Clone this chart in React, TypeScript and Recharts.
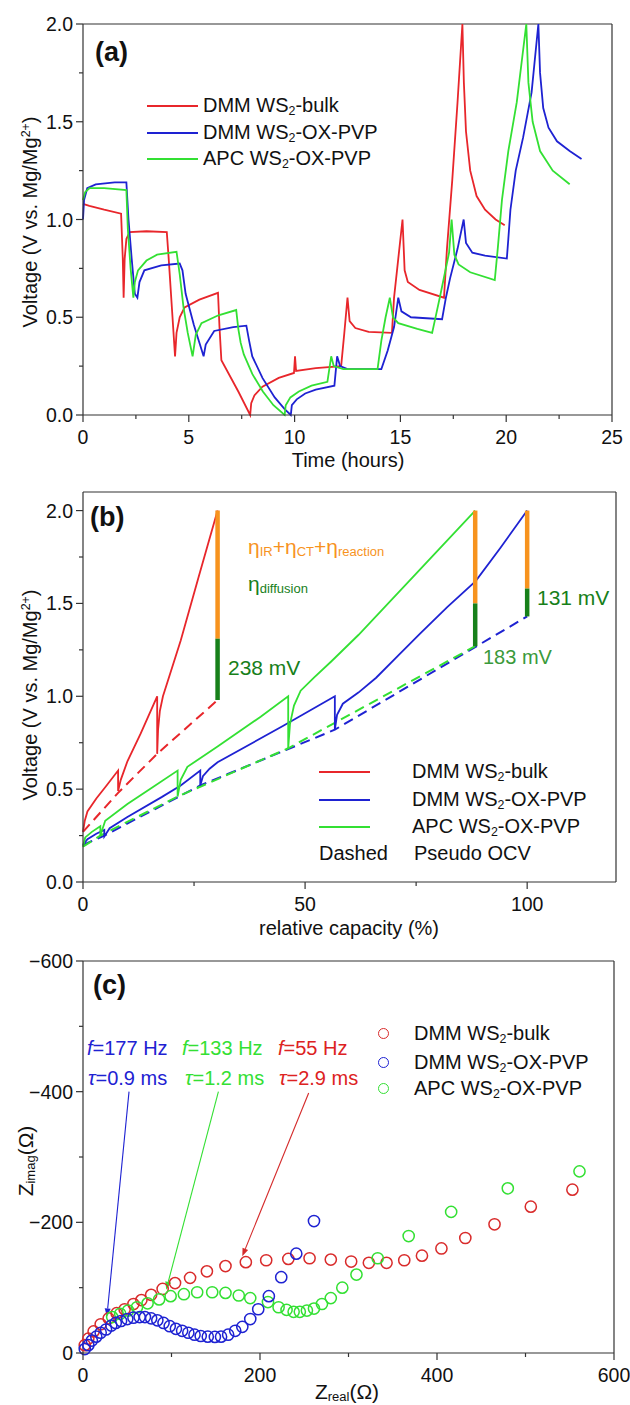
import React from 'react';
import { LineChart, Line, XAxis, YAxis, ReferenceLine, ScatterChart, Scatter } from 'recharts';

const FONT = '"Liberation Sans", Arial, sans-serif';
const AX = '#333';
const RED = '#E8262B';
const BLUE = '#1E22D2';
const GREEN = '#33E033';
const ORANGE = '#F7931E';
const DKGREEN = '#17801A';

// (a) time (h) vs voltage (V)
const bulkA: [number, number][] = [
  [0, 1.08], [0.3, 1.07], [1.0, 1.05], [1.8, 1.03], [1.88, 0.8], [1.92, 0.6], [1.97, 0.8], [2.05, 0.9], [2.2, 0.935],
  [3.0, 0.94], [3.96, 0.935], [4.05, 0.8], [4.2, 0.55], [4.35, 0.3], [4.42, 0.42], [4.57, 0.5], [4.8, 0.55], [5.5, 0.59],
  [6.38, 0.625], [6.45, 0.45], [6.54, 0.28], [7.34, 0.12], [7.9, 0.0], [7.95, 0.06], [8.1, 0.1], [8.48, 0.145],
  [9.25, 0.19], [9.97, 0.215], [10.02, 0.3], [10.07, 0.225], [11.0, 0.24], [12.2, 0.25], [12.35, 0.42], [12.5, 0.6],
  [12.6, 0.48], [12.87, 0.445], [13.5, 0.425], [14.6, 0.42], [14.7, 0.6], [14.9, 0.8], [15.1, 1.0], [15.2, 0.74],
  [15.35, 0.68], [15.9, 0.64], [17.06, 0.6], [17.2, 0.85], [17.45, 1.2], [17.7, 1.6], [17.93, 2.0], [18.0, 1.7],
  [18.1, 1.45], [18.3, 1.25], [18.6, 1.12], [19.0, 1.05], [19.5, 1.0], [19.93, 0.97],
];
const oxA: [number, number][] = [
  [0, 1.0], [0.05, 1.1], [0.2, 1.16], [0.6, 1.18], [1.5, 1.19], [2.05, 1.19], [2.15, 1.0], [2.3, 0.8], [2.45, 0.62],
  [2.57, 0.6], [2.67, 0.68], [2.9, 0.74], [3.7, 0.765], [4.57, 0.775], [4.7, 0.74], [4.85, 0.62], [5.24, 0.46],
  [5.7, 0.3], [5.8, 0.36], [6.2, 0.43], [7.1, 0.45], [7.72, 0.457], [7.85, 0.38], [8.0, 0.3], [8.48, 0.19],
  [9.06, 0.09], [9.53, 0.03], [9.82, 0.0], [9.87, 0.05], [10.1, 0.08], [10.5, 0.11], [11.0, 0.13], [11.88, 0.15],
  [12.01, 0.3], [12.15, 0.25], [12.5, 0.235], [14.1, 0.235], [14.4, 0.33], [14.7, 0.45], [14.9, 0.6], [15.05, 0.53],
  [15.5, 0.5], [16.97, 0.49], [17.15, 0.6], [17.35, 0.7], [17.7, 0.85], [17.99, 1.0], [18.1, 0.88], [18.4, 0.83],
  [19.0, 0.815], [20.03, 0.8], [20.1, 0.9], [20.2, 1.05], [20.45, 1.25], [20.8, 1.42], [21.2, 1.65], [21.52, 2.0],
  [21.6, 1.75], [21.75, 1.57], [22.0, 1.47], [22.4, 1.4], [23.0, 1.35], [23.56, 1.31],
];
const apcA: [number, number][] = [
  [0, 1.1], [0.1, 1.14], [0.3, 1.16], [1.0, 1.16], [2.05, 1.15], [2.12, 0.95], [2.25, 0.75], [2.38, 0.6], [2.45, 0.68],
  [2.6, 0.74], [3.0, 0.79], [3.5, 0.82], [4.42, 0.835], [4.57, 0.72], [4.75, 0.55], [4.95, 0.42], [5.18, 0.3],
  [5.33, 0.41], [5.6, 0.47], [6.4, 0.51], [7.24, 0.537], [7.34, 0.44], [7.45, 0.37], [7.6, 0.31], [8.0, 0.21],
  [8.5, 0.12], [9.0, 0.05], [9.53, 0.0], [9.58, 0.05], [9.8, 0.09], [10.2, 0.12], [10.8, 0.15], [11.55, 0.17],
  [11.73, 0.3], [11.85, 0.25], [12.3, 0.235], [13.92, 0.235], [14.1, 0.38], [14.3, 0.5], [14.5, 0.6], [14.65, 0.5],
  [14.9, 0.47], [15.8, 0.44], [16.5, 0.42], [16.7, 0.52], [16.9, 0.62], [17.3, 0.83], [17.42, 1.0], [17.55, 0.82],
  [17.75, 0.77], [18.3, 0.73], [19.46, 0.69], [19.6, 0.85], [19.8, 1.1], [20.1, 1.35], [20.5, 1.6], [20.95, 2.0],
  [21.05, 1.7], [21.25, 1.5], [21.6, 1.35], [22.2, 1.25], [23.0, 1.18],
];

// (b) relative capacity (%) vs voltage (V)
const bulkB: [number, number][] = [
  [0, 0.27], [0.4, 0.33], [1, 0.38], [3, 0.45], [5, 0.51], [7.9, 0.6], [7.9, 0.49], [8.5, 0.55], [10, 0.65],
  [13, 0.8], [16.7, 1.0], [16.7, 0.69], [16.9, 0.82], [17.3, 0.92], [18, 1.0], [22, 1.3], [26, 1.64], [30.3, 2.0],
];
const oxB: [number, number][] = [
  [0, 0.2], [1, 0.23], [3, 0.26], [4.8, 0.28], [4.8, 0.245], [6, 0.29], [10, 0.35], [17.7, 0.457], [22, 0.52],
  [26.4, 0.6], [26.4, 0.52], [27, 0.57], [28.5, 0.61], [30.3, 0.645], [45, 0.84], [56.7, 1.0], [56.7, 0.82],
  [57.2, 0.9], [58.5, 0.96], [62, 1.02], [66, 1.1], [71, 1.22], [76, 1.34], [82, 1.48], [88.4, 1.62], [94, 1.8],
  [100, 2.0],
];
const apcB: [number, number][] = [
  [0, 0.19], [0.5, 0.24], [2, 0.27], [3.9, 0.3], [3.9, 0.25], [5, 0.33], [10, 0.42], [15, 0.5], [21.3, 0.6],
  [21.3, 0.46], [22, 0.55], [23.5, 0.62], [30.3, 0.73], [40, 0.89], [46.2, 1.0], [46.2, 0.72], [46.6, 0.85],
  [47.5, 0.95], [49, 1.03], [52, 1.1], [56, 1.19], [62, 1.33], [75, 1.66], [88.3, 2.0],
];
const bulkOcv: [number, number][] = [[0, 0.27], [7.9, 0.48], [16.7, 0.69], [30.3, 0.98]];
const oxOcv: [number, number][] = [[0, 0.2], [4.8, 0.25], [26.4, 0.52], [56.7, 0.82], [100, 1.43]];
const apcOcv: [number, number][] = [[0, 0.19], [3.9, 0.25], [21.3, 0.46], [46.2, 0.72], [88.3, 1.27]];
const barCap = [30.3, 88.3, 100];
const barOcv = [0.98, 1.27, 1.43];
const barDiff = [1.31, 1.5, 1.58];
const barTop = [2.0, 2.0, 2.0];

// (c) Nyquist: Zreal, Zimag (Ohm)
const bulkC: [number, number][] = [
  [553, -250], [506, -224], [465, -197], [432, -176], [405, -160], [383, -149], [363, -142], [343, -138],
  [323, -138], [303, -140], [280, -143], [256, -145], [232, -144], [207, -142], [184, -139], [161, -133],
  [140, -125], [121, -115], [104, -107], [90, -98], [77, -89], [66, -81], [57, -75], [47, -67], [38, -61],
  [29, -53], [20, -44], [12, -33], [6, -22], [2, -12],
];
const oxC: [number, number][] = [
  [261, -202], [241, -152], [224, -116], [210, -87], [198, -67], [189, -52], [180, -40], [172, -34], [164, -28],
  [156, -25], [149, -24.6], [141, -25], [133, -26], [126, -28], [119, -31], [112, -34], [105, -37], [98, -41],
  [91, -46], [84, -50], [77, -53], [70, -55], [64, -55], [57, -54], [50, -52], [43, -49], [37, -46], [32, -42],
  [26, -36], [20, -31], [15, -25], [10, -19], [6, -12], [2, -6],
];
const apcC: [number, number][] = [
  [561, -278], [480, -252], [416, -216], [368, -179], [333, -145], [309, -120], [293, -100], [280, -84],
  [270, -75], [261, -68], [253, -65], [245, -63], [238, -63], [230, -66], [221, -70], [209, -78], [189, -84],
  [176, -88], [161, -92], [146, -93], [129, -93], [114, -90], [99, -87], [86, -82], [73, -76], [61, -70],
  [51, -65], [42, -60], [33, -55],
];
const arrowFrom: [number, number][] = [[52, -400], [153, -400], [255, -398]];
const arrowTo: [number, number][] = [[27, -56], [94, -97], [180, -148]];
const arrowColor = [BLUE, GREEN, '#D42A2A'];

const pts = (a: [number, number][]) => a.map(([x, y]) => ({ x, y }));
const near = (list: number[], v: number) => list.some((m) => Math.abs(m - v) < 1e-6);
const TICK_FS = 19.5;

const xTick = (majors: number[], fmt: (v: number) => string) => (p: any) => {
  const v = p.payload.value;
  const major = near(majors, v);
  return (
    <g>
      <line x1={p.x} x2={p.x} y1={p.y} y2={p.y + (major ? 7 : 4)} stroke={AX} strokeWidth={1.2} />
      {major && (
        <text x={p.x} y={p.y + 29} textAnchor="middle" fontSize={TICK_FS} fontFamily={FONT} fill="#111">
          {fmt(v)}
        </text>
      )}
    </g>
  );
};
const yTick = (majors: number[], fmt: (v: number) => string) => (p: any) => {
  const v = p.payload.value;
  const major = near(majors, v);
  return (
    <g>
      <line x1={p.x} x2={p.x - (major ? 7 : 4)} y1={p.y} y2={p.y} stroke={AX} strokeWidth={1.2} />
      {major && (
        <text x={p.x - 10} y={p.y + 7} textAnchor="end" fontSize={TICK_FS} fontFamily={FONT} fill="#111">
          {fmt(v)}
        </text>
      )}
    </g>
  );
};

const arrowShape = (color: string) => (p: any) => {
  const { x1, y1, x2, y2 } = p;
  const a = Math.atan2(y2 - y1, x2 - x1);
  const L = 8, W = 3;
  const bx = x2 - L * Math.cos(a), by = y2 - L * Math.sin(a);
  const h = `${x2},${y2} ${bx - W * Math.sin(a)},${by + W * Math.cos(a)} ${bx + W * Math.sin(a)},${by - W * Math.cos(a)}`;
  return (
    <g>
      <line x1={x1} y1={y1} x2={bx} y2={by} stroke={color} strokeWidth={1.1} />
      <polygon points={h} fill={color} />
    </g>
  );
};

const Sub = ({ children }: { children: React.ReactNode }) => (
  <span style={{ fontSize: '0.62em', verticalAlign: '-0.2em' }}>{children}</span>
);
const Sup = ({ children }: { children: React.ReactNode }) => (
  <span style={{ fontSize: '0.62em', verticalAlign: '0.55em' }}>{children}</span>
);

const Txt = ({ x, y, size = 20, color = '#111', bold, center, children }: any) => (
  <div
    style={{
      position: 'absolute', left: x, top: y, fontSize: size, color, lineHeight: 1, whiteSpace: 'nowrap',
      fontWeight: bold ? 'bold' : 'normal',
      transform: center ? 'translate(-50%,-50%)' : 'translateY(-50%)',
    }}
  >
    {children}
  </div>
);
const VTxt = ({ x, y, size = 20, children }: any) => (
  <div
    style={{
      position: 'absolute', left: x, top: y, fontSize: size, lineHeight: 1, whiteSpace: 'nowrap', color: '#111',
      transform: 'translate(-50%,-50%) rotate(-90deg)',
    }}
  >
    {children}
  </div>
);
const Swatch = ({ x, y, color }: any) => (
  <div style={{ position: 'absolute', left: x, top: y - 1, width: 51, height: 2, background: color }} />
);
const Ring = ({ x, y, color }: any) => (
  <div
    style={{
      position: 'absolute', left: x - 6, top: y - 6, width: 9, height: 9, borderRadius: '50%',
      border: `1.6px solid ${color}`,
    }}
  />
);

const ticksA_X = [0, 2.5, 5, 7.5, 10, 12.5, 15, 17.5, 20, 22.5, 25];
const ticksV = [0, 0.25, 0.5, 0.75, 1, 1.25, 1.5, 1.75, 2];
const majV = [0, 0.5, 1, 1.5, 2];
const ticksB_X = [0, 25, 50, 75, 100];
const ticksC_X = [0, 100, 200, 300, 400, 500, 600];
const ticksC_Y = [-600, -500, -400, -300, -200, -100, 0];

const line = (data: [number, number][], color: string, dashed = false) => (
  <Line
    data={pts(data)}
    dataKey="y"
    type="linear"
    stroke={color}
    strokeWidth={dashed ? 2 : 1.8}
    strokeDasharray={dashed ? '10 6' : undefined}
    dot={false}
    activeDot={false}
    isAnimationActive={false}
  />
);

const ring = (color: string) => (p: any) => (
  <circle cx={p.cx} cy={p.cy} r={5.6} fill="none" stroke={color} strokeWidth={1.5} />
);

export default function App() {
  return (
    <div style={{ position: 'absolute', left: 0, top: 0, width: 630, height: 1405, background: '#fff', fontFamily: FONT }}>
      {/* (a) */}
      <div style={{ position: 'absolute', left: 0, top: 0 }}>
        <LineChart width={630} height={480} margin={{ top: 24, right: 18, bottom: 0, left: 0 }}>
          <XAxis type="number" dataKey="x" domain={[0, 25]} ticks={ticksA_X} interval={0} height={65}
            stroke={AX} strokeWidth={1.2} tickSize={0} tickMargin={0} tickLine={false}
            tick={xTick([0, 5, 10, 15, 20, 25], (v) => String(v))} />
          <YAxis type="number" domain={[0, 2]} ticks={ticksV} interval={0} width={83}
            stroke={AX} strokeWidth={1.2} tickSize={0} tickMargin={0} tickLine={false}
            tick={yTick(majV, (v) => v.toFixed(1))} />
          <ReferenceLine y={2} stroke={AX} strokeWidth={1.2} />
          <ReferenceLine x={25} stroke={AX} strokeWidth={1.2} />
          {line(bulkA, RED)}
          {line(oxA, BLUE)}
          {line(apcA, GREEN)}
        </LineChart>
      </div>
      {/* (b) */}
      <div style={{ position: 'absolute', left: 0, top: 480 }}>
        <LineChart width={630} height={470} margin={{ top: 12, right: 14, bottom: 0, left: 0 }}>
          <XAxis type="number" dataKey="x" domain={[0, 120]} ticks={ticksB_X} interval={0} height={68}
            stroke={AX} strokeWidth={1.2} tickSize={0} tickMargin={0} tickLine={false}
            tick={xTick([0, 50, 100], (v) => String(v))} />
          <YAxis type="number" domain={[0, 2.1]} ticks={ticksV} interval={0} width={83}
            stroke={AX} strokeWidth={1.2} tickSize={0} tickMargin={0} tickLine={false}
            tick={yTick(majV, (v) => v.toFixed(1))} />
          <ReferenceLine y={2.1} stroke={AX} strokeWidth={1.2} />
          <ReferenceLine x={120} stroke={AX} strokeWidth={1.2} />
          {line(bulkOcv, RED, true)}
          {line(oxOcv, BLUE, true)}
          {line(apcOcv, GREEN, true)}
          {line(bulkB, RED)}
          {line(oxB, BLUE)}
          {line(apcB, GREEN)}
          {barCap.map((c, i) => (
            <ReferenceLine key={`o${i}`} segment={[{ x: c, y: barDiff[i] }, { x: c, y: barTop[i] }]}
              stroke={ORANGE} strokeWidth={4.5} />
          ))}
          {barCap.map((c, i) => (
            <ReferenceLine key={`g${i}`} segment={[{ x: c, y: barOcv[i] }, { x: c, y: barDiff[i] }]}
              stroke={DKGREEN} strokeWidth={4.5} />
          ))}
        </LineChart>
      </div>
      {/* (c) */}
      <div style={{ position: 'absolute', left: 0, top: 950 }}>
        <ScatterChart width={630} height={455} margin={{ top: 11, right: 16, bottom: 0, left: 0 }}>
          <XAxis type="number" dataKey="x" domain={[0, 600]} ticks={ticksC_X} interval={0} height={52}
            stroke={AX} strokeWidth={1.2} tickSize={0} tickMargin={0} tickLine={false}
            tick={xTick([0, 200, 400, 600], (v) => String(v))} />
          <YAxis type="number" dataKey="y" domain={[-600, 0]} reversed ticks={ticksC_Y} interval={0} width={83}
            stroke={AX} strokeWidth={1.2} tickSize={0} tickMargin={0} tickLine={false}
            tick={yTick([-600, -400, -200, 0], (v) => (v < 0 ? `\u2212${-v}` : String(v)))} />
          <ReferenceLine y={-600} stroke={AX} strokeWidth={1.2} />
          <ReferenceLine x={600} stroke={AX} strokeWidth={1.2} />
          <Scatter data={pts(bulkC)} shape={ring('#D92B2B')} isAnimationActive={false} />
          <Scatter data={pts(apcC)} shape={ring(GREEN)} isAnimationActive={false} />
          <Scatter data={pts(oxC)} shape={ring(BLUE)} isAnimationActive={false} />
          {arrowFrom.map((f, i) => (
            <ReferenceLine key={`a${i}`} segment={[{ x: f[0], y: f[1] }, { x: arrowTo[i][0], y: arrowTo[i][1] }]}
              shape={arrowShape(arrowColor[i])} />
          ))}
        </ScatterChart>
      </div>

      {/* annotations (a) */}
      <Txt x={95} y={52} size={27} bold>(a)</Txt>
      <Swatch x={147} y={106} color={RED} />
      <Swatch x={147} y={133} color={BLUE} />
      <Swatch x={147} y={159} color={GREEN} />
      <Txt x={203} y={106}>DMM WS<Sub>2</Sub>-bulk</Txt>
      <Txt x={203} y={133}>DMM WS<Sub>2</Sub>-OX-PVP</Txt>
      <Txt x={203} y={159}>APC WS<Sub>2</Sub>-OX-PVP</Txt>
      <VTxt x={30} y={222}>Voltage (V vs. Mg/Mg<Sup>2+</Sup>)</VTxt>
      <Txt x={348} y={460} center>Time (hours)</Txt>

      {/* annotations (b) */}
      <Txt x={90} y={517} size={27} bold>(b)</Txt>
      <Txt x={248} y={547} size={21} color={ORANGE}>
        η<Sub>IR</Sub>+η<Sub>CT</Sub>+η<Sub>reaction</Sub>
      </Txt>
      <Txt x={248} y={584} size={21} color={DKGREEN}>η<Sub>diffusion</Sub></Txt>
      <Txt x={228} y={667} size={21} color={DKGREEN}>238 mV</Txt>
      <Txt x={483} y={657} size={20} color="#3A9A3A">183 mV</Txt>
      <Txt x={537} y={597} size={21} color={DKGREEN}>131 mV</Txt>
      <Swatch x={319} y={772} color={RED} />
      <Swatch x={319} y={800} color={BLUE} />
      <Swatch x={319} y={827} color={GREEN} />
      <Txt x={412} y={772}>DMM WS<Sub>2</Sub>-bulk</Txt>
      <Txt x={412} y={800}>DMM WS<Sub>2</Sub>-OX-PVP</Txt>
      <Txt x={412} y={827}>APC WS<Sub>2</Sub>-OX-PVP</Txt>
      <Txt x={319} y={853}>Dashed</Txt>
      <Txt x={414} y={853}>Pseudo OCV</Txt>
      <VTxt x={30} y={695}>Voltage (V vs. Mg/Mg<Sup>2+</Sup>)</VTxt>
      <Txt x={349} y={928} center>relative capacity (%)</Txt>

      {/* annotations (c) */}
      <Txt x={93} y={985} size={27} bold>(c)</Txt>
      <Txt x={87} y={1048} color={BLUE}><i>f</i>=177 Hz</Txt>
      <Txt x={182} y={1048} color={GREEN}><i>f</i>=133 Hz</Txt>
      <Txt x={278} y={1048} color="#DD2222"><i>f</i>=55 Hz</Txt>
      <Txt x={88} y={1078} color={BLUE}><i>τ</i>=0.9 ms</Txt>
      <Txt x={185} y={1078} color={GREEN}><i>τ</i>=1.2 ms</Txt>
      <Txt x={279} y={1078} color="#DD2222"><i>τ</i>=2.9 ms</Txt>
      <Ring x={384} y={1034} color="#D92B2B" />
      <Ring x={384} y={1063} color={BLUE} />
      <Ring x={384} y={1089} color={GREEN} />
      <Txt x={414} y={1034}>DMM WS<Sub>2</Sub>-bulk</Txt>
      <Txt x={414} y={1063}>DMM WS<Sub>2</Sub>-OX-PVP</Txt>
      <Txt x={414} y={1089}>APC WS<Sub>2</Sub>-OX-PVP</Txt>
      <VTxt x={26} y={1161} size={21}>Z<Sub>imag</Sub>(Ω)</VTxt>
      <Txt x={347} y={1392} size={21} center>Z<Sub>real</Sub>(Ω)</Txt>
    </div>
  );
}
